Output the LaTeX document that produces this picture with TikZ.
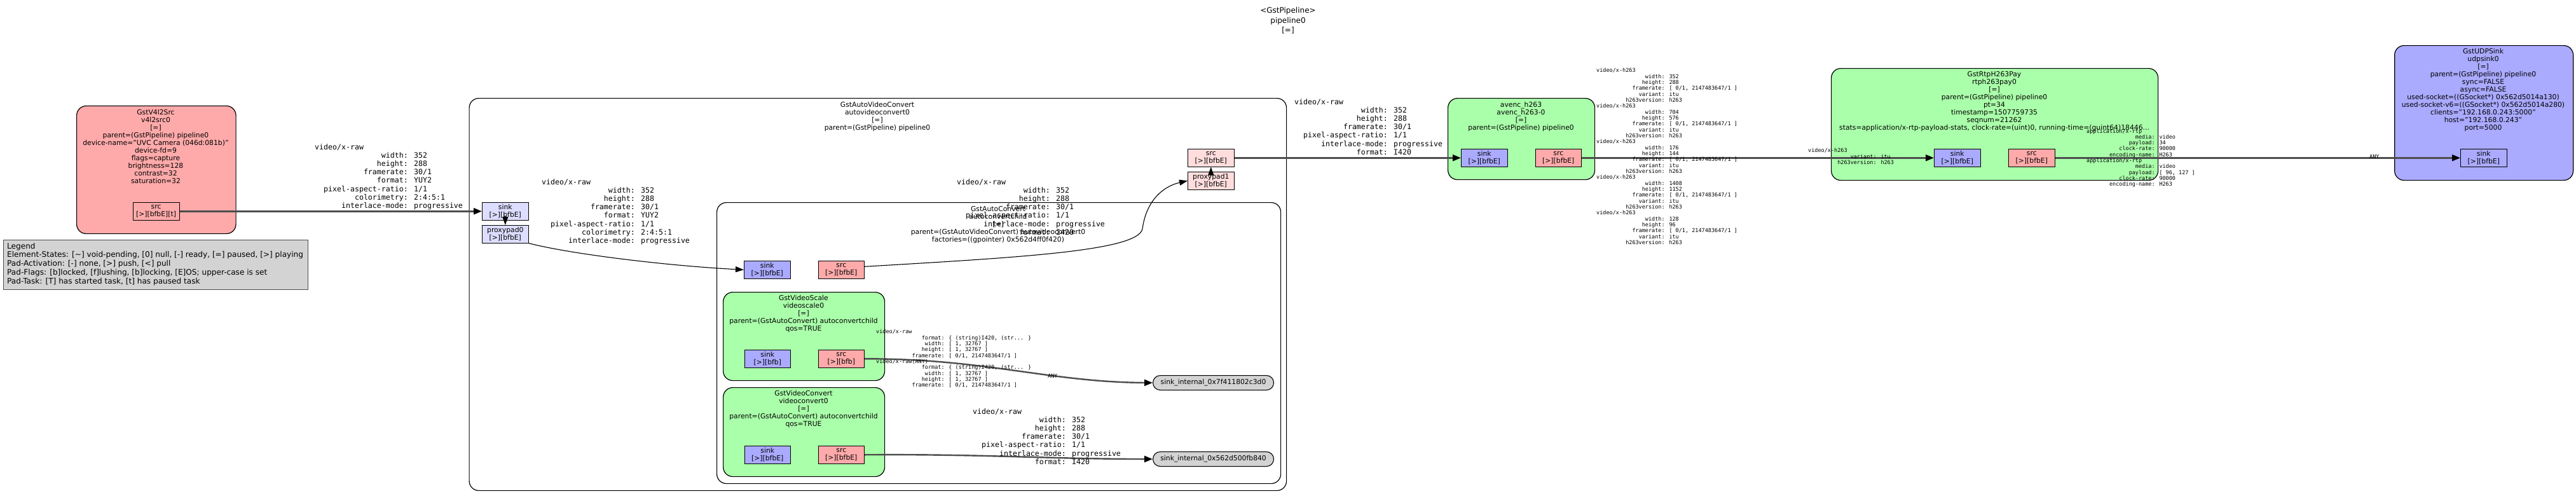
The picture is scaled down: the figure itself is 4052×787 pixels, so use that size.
\documentclass[tikz,border=0pt]{standalone}
\usepackage{fontspec}
\setmainfont{DejaVu Sans}
\newfontfamily\capsfont{DejaVu Sans Mono}
\usetikzlibrary{arrows.meta}
\definecolor{srcfill}{HTML}{FFAAAA}
\definecolor{sinkfill}{HTML}{AAAAFF}
\definecolor{filtfill}{HTML}{AAFFAA}
\definecolor{gsinkfill}{HTML}{DDDDFF}
\definecolor{gsrcfill}{HTML}{FFDDDD}
\definecolor{legfill}{HTML}{D3D3D3}
\definecolor{edgegray}{HTML}{4D4D4D}
\newcommand\kv[2]{\makebox[12.04em][r]{#1}: #2}
\tikzset{
  elem/.style={draw=black, line width=1.2pt, rounded corners=15pt, anchor=north west, inner sep=0pt},
  padbox/.style={draw=black, line width=1.1pt, anchor=north west, inner sep=0pt, minimum width=72.5pt, minimum height=27.5pt, align=center, font=\fontsize{10.8}{12}\selectfont},
  ellab/.style={anchor=north, inner sep=0pt, align=center, font=\fontsize{10.8}{12}\selectfont},
  capslab/.style={anchor=north west, inner sep=0pt, align=left, font=\capsfont\fontsize{11.6}{13.2}\selectfont},
  tcaps/.style={anchor=north west, inner sep=0pt, align=left, font=\capsfont\fontsize{8.5}{9.33}\selectfont},
  dataedge/.style={draw=edgegray, line width=2.4pt, -{Triangle[length=13pt,width=10pt,black]}},
  proxyedge/.style={draw=black, line width=1.1pt, -{Triangle[length=13pt,width=9pt,black]}},
  internal/.style={draw=black, line width=1.1pt, fill=legfill, anchor=north west, inner sep=0pt, minimum width=190pt, minimum height=23pt, rounded corners=11.5pt, font=\fontsize{10.8}{12}\selectfont},
}
\begin{document}
\begin{tikzpicture}[x=1pt,y=-1pt]
\path[use as bounding box, fill=white] (0,0) rectangle (4052,787);

% title
\node[anchor=north, inner sep=0pt, align=center, font=\fontsize{12}{15.5}\selectfont] (title) at (2026,11.5) {<GstPipeline>\\pipeline0\\{}[=]};

% legend
\node[draw=edgegray, line width=1.3pt, fill=legfill, anchor=north west, inner sep=0pt, minimum width=479pt, minimum height=78pt] (legendbox) at (5,377) {};
\node[anchor=north west, inner sep=0pt, align=left, font=\fontsize{12.1}{13.75}\selectfont] (legend) at (11,381.8) {Legend\\Element-States: [\textasciitilde] void-pending, [0] null, [-] ready, [=] paused, [>] playing\\Pad-Activation: [-] none, [>] push, [<] pull\\Pad-Flags: [b]locked, [f]lushing, [b]locking, [E]OS; upper-case is set\\Pad-Task: [T] has started task, [t] has paused task};

% bins and elements
\node[elem, fill=white, minimum width=1285.5pt, minimum height=617pt] (avc) at (737.5,154) {};
\node[elem, fill=white, minimum width=887pt, minimum height=442pt] (ac) at (1127,318) {};
\node[elem, fill=srcfill, minimum width=250.5pt, minimum height=201pt] (v4l2) at (120,166) {};
\node[elem, fill=filtfill, minimum width=254pt, minimum height=139pt] (vs) at (1137,459) {};
\node[elem, fill=filtfill, minimum width=254pt, minimum height=140pt] (vc) at (1137,609) {};
\node[elem, fill=filtfill, minimum width=231pt, minimum height=128pt] (enc) at (2277,154) {};
\node[elem, fill=filtfill, minimum width=514pt, minimum height=176pt] (pay) at (2880,107) {};
\node[elem, fill=sinkfill, minimum width=281pt, minimum height=212pt] (udp) at (3766,71) {};
\node[internal] (si1) at (1813,590) {sink\_internal\_0x7f411802c3d0};
\node[internal] (si2) at (1813,710) {sink\_internal\_0x562d500fb840};

% element labels
\node[ellab] (v4l2lab) at (245,172.4) {GstV4l2Src\\v4l2src0\\{}[=]\\parent=(GstPipeline) pipeline0\\device-name="UVC Camera (046d:081b)"\\device-fd=9\\flags=capture\\brightness=128\\contrast=32\\saturation=32};
\node[ellab] (avclab) at (1380,160.4) {GstAutoVideoConvert\\autovideoconvert0\\{}[=]\\parent=(GstPipeline) pipeline0};
\node[ellab] (aclab) at (1570,324.4) {GstAutoConvert\\autoconvertchild\\{}[=]\\parent=(GstAutoVideoConvert) autovideoconvert0\\factories=((gpointer) 0x562d4ff0f420)};
\node[ellab] (vslab) at (1264,464.4) {GstVideoScale\\videoscale0\\{}[=]\\parent=(GstAutoConvert) autoconvertchild\\qos=TRUE};
\node[ellab] (vclab) at (1264,614.4) {GstVideoConvert\\videoconvert0\\{}[=]\\parent=(GstAutoConvert) autoconvertchild\\qos=TRUE};
\node[ellab] (enclab) at (2392.5,160.4) {avenc\_h263\\avenc\_h263-0\\{}[=]\\parent=(GstPipeline) pipeline0};
\node[ellab] (paylab) at (3137,112.4) {GstRtpH263Pay\\rtph263pay0\\{}[=]\\parent=(GstPipeline) pipeline0\\pt=34\\timestamp=1507759735\\seqnum=21262\\stats=application/x-rtp-payload-stats, clock-rate=(uint)0, running-time=(guint64)18446...};
\node[ellab] (udplab) at (3906,76.4) {GstUDPSink\\udpsink0\\{}[=]\\parent=(GstPipeline) pipeline0\\sync=FALSE\\async=FALSE\\used-socket=((GSocket*) 0x562d5014a130)\\used-socket-v6=((GSocket*) 0x562d5014a280)\\clients="192.168.0.243:5000"\\host="192.168.0.243"\\port=5000};

% pads
\node[padbox, fill=srcfill, minimum width=73pt] (v4l2src) at (208.5,318) {src\\{}[>][bfbE][t]};
\node[padbox, fill=gsinkfill] (avcsink) at (758,318) {sink\\{}[>][bfbE]};
\node[padbox, fill=gsinkfill] (avcproxy0) at (758,354) {proxypad0\\{}[>][bfbE]};
\node[padbox, fill=sinkfill] (acsink) at (1170,410) {sink\\{}[>][bfbE]};
\node[padbox, fill=srcfill] (acsrc) at (1286.5,410) {src\\{}[>][bfbE]};
\node[padbox, fill=sinkfill] (vssink) at (1170.5,550) {sink\\{}[>][bfb]};
\node[padbox, fill=srcfill] (vssrc) at (1286.5,550) {src\\{}[>][bfb]};
\node[padbox, fill=sinkfill] (vcsink) at (1170.5,701) {sink\\{}[>][bfbE]};
\node[padbox, fill=srcfill] (vcsrc) at (1286.5,701) {src\\{}[>][bfbE]};
\node[padbox, fill=gsrcfill] (avcsrc) at (1868,234) {src\\{}[>][bfbE]};
\node[padbox, fill=gsrcfill] (avcproxy1) at (1868,270) {proxypad1\\{}[>][bfbE]};
\node[padbox, fill=sinkfill] (encsink) at (2298,234) {sink\\{}[>][bfbE]};
\node[padbox, fill=srcfill] (encsrc) at (2414.5,234) {src\\{}[>][bfbE]};
\node[padbox, fill=sinkfill] (paysink) at (3042,234) {sink\\{}[>][bfbE]};
\node[padbox, fill=srcfill] (paysrc) at (3159,234) {src\\{}[>][bfbE]};
\node[padbox, fill=sinkfill] (udpsink) at (3870,234) {sink\\{}[>][bfbE]};

% edges
\draw[dataedge] (v4l2src.east) -- (avcsink.west);
\draw[proxyedge] ([yshift=8pt]avcsink.south) -- (avcproxy0.north);
\draw[proxyedge] (avcproxy0.south east) .. controls (900,400) and (1050,418) .. (acsink.west);
\draw[proxyedge] ([yshift=5pt]acsrc.east) .. controls (1600,405) and (1790,395) .. (1797,360) .. controls (1803,315) and (1830,293) .. (avcproxy1.west);
\draw[proxyedge] ([yshift=-8pt]avcproxy1.north) -- (avcsrc.south);
\draw[dataedge] (vssrc.east) .. controls (1550,564) and (1650,601) .. (si1.west);
\draw[dataedge] (vcsrc.east) .. controls (1550,714) and (1650,722) .. (si2.west);
\draw[dataedge] (avcsrc.east) -- (encsink.west);
\draw[dataedge] (encsrc.east) -- (paysink.west);
\draw[dataedge] (paysrc.east) -- (udpsink.west);

% caps labels
\node[capslab] (caps1) at (495,226) {video/x-raw\\\kv{width}{352}\\\kv{height}{288}\\\kv{framerate}{30/1}\\\kv{format}{YUY2}\\\kv{pixel-aspect-ratio}{1/1}\\\kv{colorimetry}{2:4:5:1}\\\kv{interlace-mode}{progressive}};
\node[capslab] (caps2) at (852,281) {video/x-raw\\\kv{width}{352}\\\kv{height}{288}\\\kv{framerate}{30/1}\\\kv{format}{YUY2}\\\kv{pixel-aspect-ratio}{1/1}\\\kv{colorimetry}{2:4:5:1}\\\kv{interlace-mode}{progressive}};
\node[capslab] (caps3) at (1505,281) {video/x-raw\\\kv{width}{352}\\\kv{height}{288}\\\kv{framerate}{30/1}\\\kv{pixel-aspect-ratio}{1/1}\\\kv{interlace-mode}{progressive}\\\kv{format}{I420}};
\node[capslab] (caps4) at (2036,155) {video/x-raw\\\kv{width}{352}\\\kv{height}{288}\\\kv{framerate}{30/1}\\\kv{pixel-aspect-ratio}{1/1}\\\kv{interlace-mode}{progressive}\\\kv{format}{I420}};
\node[capslab] (caps5) at (1530,642) {video/x-raw\\\kv{width}{352}\\\kv{height}{288}\\\kv{framerate}{30/1}\\\kv{pixel-aspect-ratio}{1/1}\\\kv{interlace-mode}{progressive}\\\kv{format}{I420}};

\node[tcaps] (vscaps) at (1378,518.3) {video/x-raw\\\kv{format}{\{ (string)I420, (str... \}}\\\kv{width}{[ 1, 32767 ]}\\\kv{height}{[ 1, 32767 ]}\\\kv{framerate}{[ 0/1, 2147483647/1 ]}\\video/x-raw(ANY)\\\kv{format}{\{ (string)I420, (str... \}}\\\kv{width}{[ 1, 32767 ]}\\\kv{height}{[ 1, 32767 ]}\\\kv{framerate}{[ 0/1, 2147483647/1 ]}};
\node[tcaps] (si1any) at (1648,588) {ANY};

\node[tcaps] (enccaps) at (2511,107.3) {video/x-h263\\\kv{width}{352}\\\kv{height}{288}\\\kv{framerate}{[ 0/1, 2147483647/1 ]}\\\kv{variant}{itu}\\\kv{h263version}{h263}\\video/x-h263\\\kv{width}{704}\\\kv{height}{576}\\\kv{framerate}{[ 0/1, 2147483647/1 ]}\\\kv{variant}{itu}\\\kv{h263version}{h263}\\video/x-h263\\\kv{width}{176}\\\kv{height}{144}\\\kv{framerate}{[ 0/1, 2147483647/1 ]}\\\kv{variant}{itu}\\\kv{h263version}{h263}\\video/x-h263\\\kv{width}{1408}\\\kv{height}{1152}\\\kv{framerate}{[ 0/1, 2147483647/1 ]}\\\kv{variant}{itu}\\\kv{h263version}{h263}\\video/x-h263\\\kv{width}{128}\\\kv{height}{96}\\\kv{framerate}{[ 0/1, 2147483647/1 ]}\\\kv{variant}{itu}\\\kv{h263version}{h263}};
\node[tcaps] (paysinkcaps) at (2844,233.3) {video/x-h263\\\kv{variant}{itu}\\\kv{h263version}{h263}};
\node[tcaps] (paysrccaps) at (3282,202.3) {application/x-rtp\\\kv{media}{video}\\\kv{payload}{34}\\\kv{clock-rate}{90000}\\\kv{encoding-name}{H263}\\application/x-rtp\\\kv{media}{video}\\\kv{payload}{[ 96, 127 ]}\\\kv{clock-rate}{90000}\\\kv{encoding-name}{H263}};
\node[tcaps] (udpany) at (3727,243.3) {ANY};
\end{tikzpicture}
\end{document}
